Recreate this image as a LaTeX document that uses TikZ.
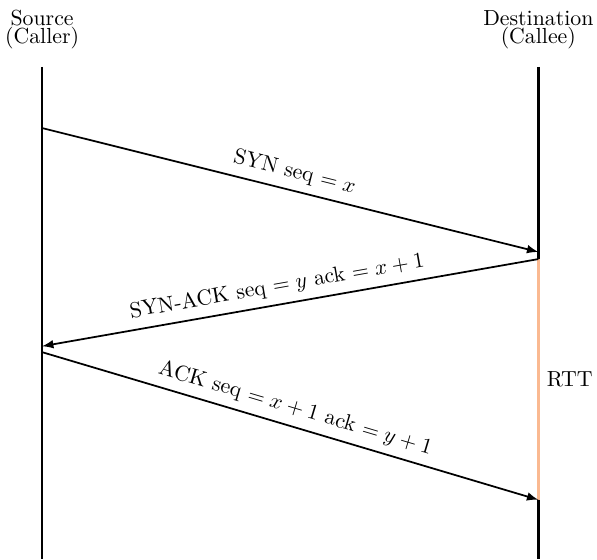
\documentclass[tikz,border=0pt]{standalone}
\usepackage{tikz}
\definecolor{rttline}{RGB}{250,185,145}

\begin{document}
\begin{tikzpicture}[scale=0.955, >=latex]
    \useasboundingbox(-0.71,0)rectangle(9.36,9.43);
    % time lines
    \coordinate(srctop)at(0,8.3);
    \coordinate(srcbot)at(0,0);
    \coordinate(dsttop)at(8.37,8.3);
    \coordinate(dstbot)at(8.37,0);
    \draw[very thick](srctop)--(srcbot);
    \draw[very thick](dsttop)--(dstbot);
    \node[align=center](src)at(0,8.93){Source\\[-3.5pt](Caller)};
    \node[align=center](dst)at(8.37,8.93){Destination\\[-3.5pt](Callee)};

    % handshake
    \coordinate(a1)at(0,7.27);
    \coordinate(b1)at(8.37,5.18);
    \coordinate(b2)at(8.37,5.06);
    \coordinate(a2)at(0,3.59);
    \coordinate(a3)at(0,3.49);
    \coordinate(b3)at(8.37,1.0);
    \draw[rttline, very thick](b2)--(b3)node[midway, right, black](rtt){RTT};
    \draw[->, thick](a1)--(b1)node[midway, above, sloped](syn){SYN seq $=x$};
    \draw[->, thick](b2)--(a2)node[pos=0.52, above, sloped](synack){SYN-ACK seq $=y$ ack $=x+1$};
    \draw[->, thick](a3)--(b3)node[midway, above, sloped](ack){ACK seq $=x+1$ ack $=y+1$};
\end{tikzpicture}
\end{document}
